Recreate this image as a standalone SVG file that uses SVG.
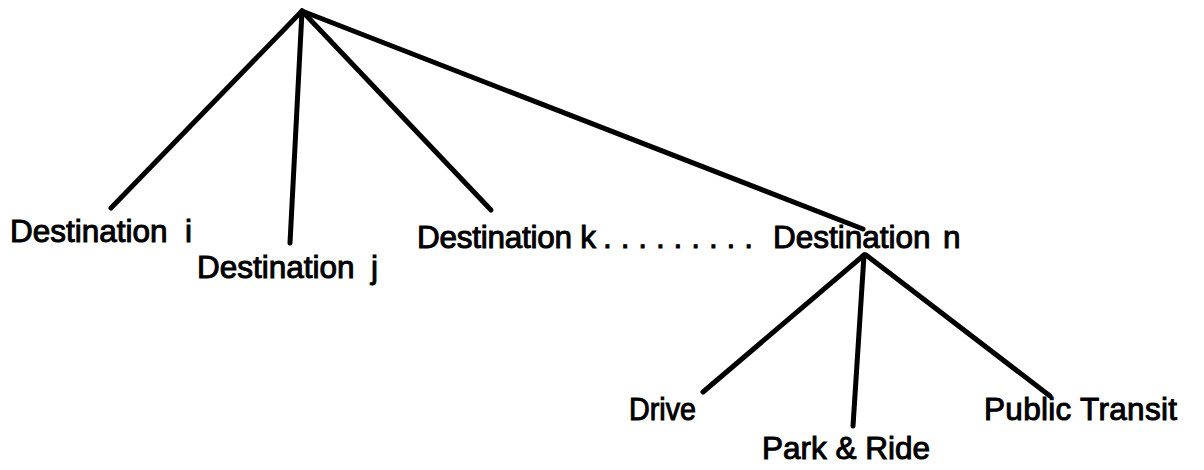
<svg xmlns="http://www.w3.org/2000/svg" width="1204" height="470" viewBox="0 0 1204 470">
  <style>
    .edge { stroke: #000; stroke-width: 5; stroke-linecap: round; fill: none; }
    .label { font-family: "Liberation Sans", Arial, sans-serif; font-size: 31.5px; fill: #000; stroke: #000; stroke-width: 1; }
  </style>
  <rect width="1204" height="470" fill="#fff"/>

  <!-- tree branches -->
  <g id="connectors">
    <line class="edge" x1="302" y1="11" x2="111" y2="208"/>
    <line class="edge" x1="302" y1="11" x2="290" y2="243"/>
    <line class="edge" x1="302" y1="11" x2="491" y2="210"/>
    <line class="edge" x1="302" y1="11" x2="863" y2="229"/>
    <line class="edge" x1="864" y1="255" x2="703" y2="392"/>
    <line class="edge" x1="864" y1="255" x2="853" y2="426"/>
    <line class="edge" x1="866" y1="255" x2="1050" y2="396"/>
  </g>

  <!-- destination level -->
  <g id="dest-i">
    <text class="label" y="242"><tspan x="10">Destination</tspan><tspan x="185">i</tspan></text>
  </g>
  <g id="dest-j">
    <text class="label" y="278"><tspan x="197">Destination</tspan><tspan x="371">j</tspan></text>
  </g>
  <g id="dest-k">
    <text class="label" x="417" y="248" textLength="179">Destination k</text>
    <text class="label" x="603" y="248" textLength="150" lengthAdjust="spacing">. . . . . . . . .</text>
  </g>
  <g id="dest-n">
    <text class="label" y="248"><tspan x="773">Destination</tspan><tspan x="943">n</tspan></text>
  </g>

  <!-- travel modes under destination n -->
  <g id="mode-drive">
    <text class="label" x="629" y="420" textLength="67" lengthAdjust="spacingAndGlyphs">Drive</text>
  </g>
  <g id="mode-park-ride">
    <text class="label" x="762" y="459">Park &amp; Ride</text>
  </g>
  <g id="mode-transit">
    <text class="label" x="984" y="420" textLength="193">Public Transit</text>
  </g>
</svg>
